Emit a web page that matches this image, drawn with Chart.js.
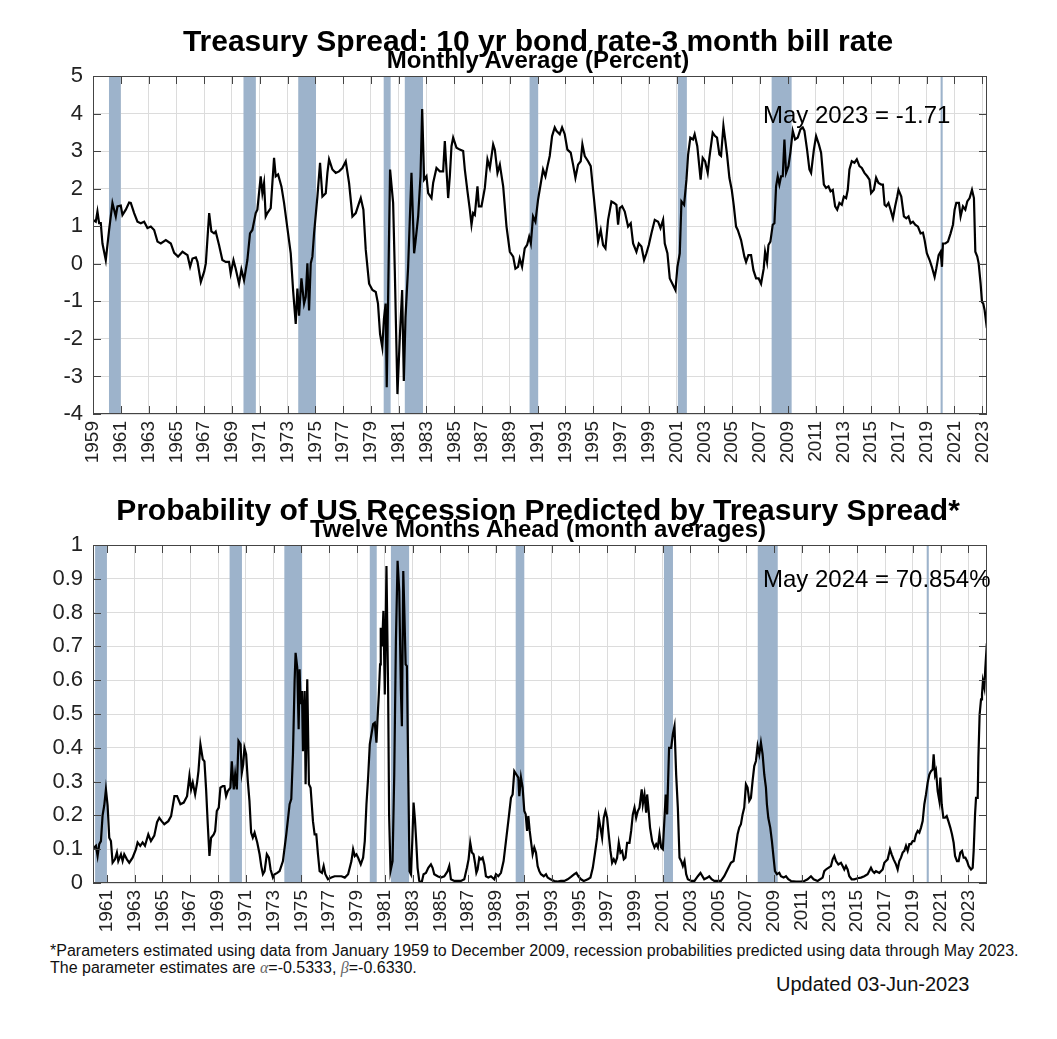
<!DOCTYPE html>
<html>
<head>
<meta charset="utf-8">
<title>Treasury Spread and Recession Probability</title>
<script src="https://cdn.jsdelivr.net/npm/chart.js"></script>
<style>
  body { margin: 0; background: #fff; font-family: "Liberation Sans", Arial, sans-serif; }
  #page { position: relative; width: 1057px; height: 1039px; overflow: hidden; background: #fff; }
  .block { position: absolute; left: 0; width: 1057px; height: 469px; }
  .block canvas { position: absolute; left: 0; top: 0; }
  .title { position: absolute; left: 38px; width: 1000px; text-align: center; font-weight: bold; white-space: nowrap; color: #000; }
  .t1 { top: 26px; font-size: 30px; line-height: 30px; }
  .t2 { top: 48px; font-size: 24px; line-height: 24px; }
  .note { position: absolute; left: 50px; top: 942px; font-size: 16px; line-height: 17px; color: #111; white-space: nowrap; }
  .greek { font-family: "Liberation Serif", "DejaVu Serif", serif; font-style: italic; color: #666; }
  .updated { position: absolute; left: 776px; top: 974px; font-size: 20px; line-height: 20px; color: #111; }
</style>
</head>
<body>
<div id="page">
  <div class="block" style="top:0">
    <canvas id="spreadChart" width="1057" height="469"></canvas>
    <div class="title t1">Treasury Spread: 10 yr bond rate-3 month bill rate</div>
    <div class="title t2">Monthly Average (Percent)</div>
  </div>
  <div class="block" style="top:469px">
    <canvas id="probChart" width="1057" height="469"></canvas>
    <div class="title t1">Probability of US Recession Predicted by Treasury Spread*</div>
    <div class="title t2">Twelve Months Ahead (month averages)</div>
  </div>
  <div class="note">*Parameters estimated using data from January 1959 to December 2009, recession probabilities predicted using data through May 2023.<br>The parameter estimates are <span class="greek">α</span>=-0.5333, <span class="greek">β</span>=-0.6330.</div>
  <div class="updated">Updated 03-Jun-2023</div>
</div>

<script>
// Spread series (decimal year, percent)
const spreadYears = [
  1959.00,1959.20,1959.32,1959.44,1959.56,1959.68,1959.92,1960.16,1960.40,1960.64,
  1960.76,1961.00,1961.12,1961.36,1961.60,1961.72,1961.96,1962.20,1962.44,1962.68,
  1962.92,1963.16,1963.40,1963.64,1963.88,1964.24,1964.60,1964.84,1965.12,1965.44,
  1965.80,1965.99,1966.16,1966.40,1966.52,1966.76,1967.00,1967.12,1967.36,1967.52,
  1967.71,1967.83,1968.07,1968.31,1968.55,1968.79,1968.91,1969.11,1969.27,1969.51,
  1969.68,1969.87,1970.11,1970.30,1970.47,1970.71,1970.83,1971.07,1971.19,1971.31,
  1971.43,1971.55,1971.79,1972.03,1972.15,1972.32,1972.56,1972.75,1972.99,1973.23,
  1973.40,1973.59,1973.71,1973.83,1974.00,1974.19,1974.31,1974.43,1974.55,1974.67,
  1974.79,1974.91,1975.15,1975.34,1975.51,1975.75,1975.87,1975.99,1976.23,1976.47,
  1976.71,1976.95,1977.19,1977.43,1977.67,1977.91,1978.15,1978.27,1978.46,1978.63,
  1978.87,1979.11,1979.35,1979.51,1979.66,1979.82,1979.94,1980.06,1980.14,1980.38,
  1980.60,1980.72,1980.91,1981.08,1981.25,1981.37,1981.49,1981.68,1981.92,1982.11,
  1982.21,1982.40,1982.57,1982.69,1982.83,1983.00,1983.12,1983.36,1983.48,1983.72,
  1983.96,1984.20,1984.32,1984.44,1984.56,1984.68,1984.80,1984.92,1985.16,1985.40,
  1985.64,1985.76,1985.95,1986.12,1986.24,1986.36,1986.48,1986.67,1986.77,1986.96,
  1987.20,1987.39,1987.56,1987.80,1987.92,1988.11,1988.28,1988.52,1988.76,1989.00,
  1989.24,1989.40,1989.59,1989.71,1989.88,1990.07,1990.24,1990.39,1990.51,1990.67,
  1990.84,1991.03,1991.23,1991.39,1991.56,1991.71,1991.87,1992.04,1992.23,1992.35,
  1992.59,1992.76,1992.95,1993.14,1993.38,1993.55,1993.72,1993.91,1994.10,1994.22,
  1994.39,1994.63,1994.82,1994.99,1995.16,1995.35,1995.54,1995.71,1995.88,1996.07,
  1996.31,1996.50,1996.67,1996.79,1996.91,1997.08,1997.27,1997.51,1997.70,1997.87,
  1998.11,1998.28,1998.47,1998.66,1998.83,1999.00,1999.19,1999.43,1999.67,1999.84,
  2000.03,2000.15,2000.34,2000.51,2000.75,2000.92,2001.06,2001.23,2001.35,2001.54,
  2001.71,2001.83,2001.99,2002.18,2002.30,2002.49,2002.73,2002.88,2003.05,2003.24,
  2003.36,2003.60,2003.77,2003.91,2004.08,2004.20,2004.37,2004.51,2004.63,2004.80,
  2004.97,2005.11,2005.28,2005.40,2005.64,2005.88,2006.00,2006.17,2006.36,2006.53,
  2006.72,2006.91,2007.08,2007.27,2007.37,2007.51,2007.61,2007.75,2007.92,2008.04,
  2008.16,2008.28,2008.40,2008.52,2008.64,2008.76,2008.88,2009.05,2009.19,2009.36,
  2009.53,2009.72,2009.91,2010.08,2010.20,2010.39,2010.56,2010.68,2010.88,2011.04,
  2011.24,2011.40,2011.60,2011.76,2011.93,2012.08,2012.24,2012.41,2012.56,2012.72,
  2012.89,2013.04,2013.20,2013.32,2013.44,2013.61,2013.80,2013.97,2014.16,2014.33,
  2014.52,2014.72,2014.88,2015.00,2015.20,2015.36,2015.53,2015.73,2015.85,2015.97,
  2016.09,2016.25,2016.40,2016.57,2016.73,2016.88,2016.97,2017.17,2017.36,2017.53,
  2017.69,2017.84,2018.01,2018.17,2018.37,2018.56,2018.73,2018.85,2019.01,2019.21,
  2019.37,2019.57,2019.69,2019.86,2020.00,2020.10,2020.17,2020.34,2020.53,2020.72,
  2020.89,2021.01,2021.13,2021.32,2021.44,2021.61,2021.78,2021.92,2022.09,2022.26,
  2022.40,2022.50,2022.64,2022.74,2022.88,2022.98,2023.07,2023.17,2023.33
];
const spreadValues = [
  1.17,1.12,1.39,1.08,1.08,0.54,0.10,0.90,1.62,1.26,
  1.53,1.55,1.30,1.44,1.63,1.62,1.35,1.12,1.08,1.12,
  0.95,0.99,0.90,0.59,0.54,0.63,0.54,0.29,0.19,0.32,
  0.23,-0.08,0.14,0.17,0.05,-0.48,-0.21,0.01,1.35,0.86,
  0.81,0.86,0.50,0.10,0.05,0.05,-0.26,0.10,-0.13,-0.53,
  -0.15,-0.44,0.10,0.81,0.90,1.35,1.44,2.33,1.88,2.15,
  1.26,1.35,1.48,2.82,2.33,2.38,2.06,1.62,0.95,0.28,
  -0.70,-1.60,-0.66,-1.38,-0.39,-1.06,-0.88,0.01,-1.24,0.01,
  0.19,0.81,1.79,2.69,1.79,1.88,2.42,2.78,2.51,2.42,
  2.46,2.55,2.73,2.15,1.26,1.35,1.62,1.75,1.44,0.37,
  -0.53,-0.70,-0.75,-1.06,-1.87,-2.22,-1.46,-1.06,-3.29,2.51,
  1.62,-0.17,-3.47,-1.96,-0.70,-3.12,-1.42,-0.08,2.42,0.28,
  0.59,1.26,2.33,4.12,2.24,2.33,1.88,1.75,2.15,2.55,
  2.46,2.46,3.27,2.51,1.75,2.33,3.13,3.36,3.09,3.04,
  3.00,2.51,1.93,1.44,1.04,1.35,1.30,2.06,1.53,1.53,
  2.02,2.78,2.55,3.18,3.04,2.42,2.64,2.06,0.99,0.32,
  0.19,-0.13,-0.08,0.14,-0.08,0.41,0.50,0.72,0.54,1.26,
  1.12,1.71,2.15,2.51,2.33,2.60,2.87,3.40,3.63,3.54,
  3.45,3.63,3.45,3.04,2.96,2.64,2.29,2.64,2.73,3.18,
  2.87,2.73,2.60,1.97,1.35,0.59,0.90,0.50,0.41,1.17,
  1.66,1.62,1.57,1.04,1.48,1.53,1.39,0.99,1.08,0.54,
  0.32,0.54,0.46,0.10,0.28,0.50,0.81,1.17,1.12,0.95,
  1.17,0.54,0.28,-0.39,-0.57,-0.70,-0.08,0.28,1.66,1.57,
  2.24,2.91,3.36,3.31,3.45,3.13,2.24,2.82,2.73,2.42,
  2.82,3.49,3.40,3.36,2.91,2.87,3.67,3.27,2.91,2.29,
  1.97,1.57,0.99,0.90,0.63,0.19,0.05,0.23,0.23,-0.17,
  -0.39,-0.39,-0.53,-0.13,0.32,0.05,0.50,0.59,1.04,1.08,
  2.06,2.33,2.11,2.33,2.33,3.31,2.42,2.60,2.96,3.54,
  3.31,3.36,3.58,3.63,3.54,3.04,2.51,2.42,3.04,3.40,
  3.18,2.96,2.11,2.02,2.06,1.93,1.97,1.53,1.44,1.62,
  1.57,1.79,1.75,1.97,2.51,2.73,2.69,2.78,2.60,2.55,
  2.42,2.33,2.24,1.88,1.97,2.29,2.15,2.11,2.11,1.57,
  1.53,1.62,1.44,1.21,1.53,1.79,1.97,1.79,1.26,1.21,
  1.26,1.08,1.12,1.04,0.99,0.81,0.83,0.63,0.28,0.10,
  -0.08,-0.35,-0.13,0.23,0.32,-0.08,0.54,0.54,0.59,0.81,
  1.04,1.44,1.62,1.62,1.26,1.53,1.44,1.66,1.75,1.97,
  1.75,0.32,0.19,0.01,-0.53,-1.02,-1.06,-1.24,-1.71
];

// Recession probability twelve months ahead (decimal year, probability)
const probYears = [
  1960.00,1960.09,1960.21,1960.33,1960.45,1960.57,1960.69,1960.81,1960.93,1961.05,
  1961.17,1961.29,1961.41,1961.58,1961.72,1961.82,1962.01,1962.13,1962.25,1962.44,
  1962.61,1962.85,1963.09,1963.21,1963.40,1963.57,1963.74,1963.98,1964.17,1964.41,
  1964.61,1964.77,1964.94,1965.13,1965.42,1965.62,1965.86,1966.05,1966.29,1966.53,
  1966.77,1966.94,1967.06,1967.18,1967.35,1967.49,1967.59,1967.73,1967.90,1968.02,
  1968.14,1968.26,1968.38,1968.50,1968.69,1968.79,1968.91,1969.05,1969.17,1969.34,
  1969.46,1969.58,1969.70,1969.89,1969.99,1970.13,1970.23,1970.35,1970.47,1970.62,
  1970.71,1970.81,1970.90,1971.02,1971.14,1971.26,1971.38,1971.50,1971.63,1971.82,
  1971.99,1972.11,1972.23,1972.35,1972.51,1972.66,1972.78,1972.95,1973.07,1973.26,
  1973.43,1973.67,1973.91,1974.15,1974.27,1974.39,1974.51,1974.58,1974.70,1974.80,
  1974.87,1974.94,1975.04,1975.11,1975.23,1975.30,1975.42,1975.54,1975.66,1975.83,
  1975.95,1976.07,1976.19,1976.31,1976.48,1976.60,1976.72,1976.91,1977.15,1977.39,
  1977.63,1977.88,1978.12,1978.36,1978.60,1978.72,1978.84,1978.96,1979.08,1979.27,
  1979.44,1979.56,1979.68,1979.80,1979.92,1980.04,1980.16,1980.28,1980.40,1980.47,
  1980.57,1980.66,1980.71,1980.81,1980.90,1981.00,1981.12,1981.24,1981.31,1981.41,
  1981.56,1981.68,1981.80,1981.92,1982.04,1982.16,1982.23,1982.33,1982.40,1982.50,
  1982.59,1982.69,1982.78,1982.88,1982.98,1983.07,1983.17,1983.26,1983.36,1983.48,
  1983.65,1983.79,1983.96,1984.13,1984.32,1984.44,1984.56,1984.80,1985.04,1985.28,
  1985.52,1985.64,1985.76,1986.00,1986.24,1986.48,1986.72,1986.91,1987.03,1987.15,
  1987.27,1987.39,1987.49,1987.59,1987.68,1987.80,1987.92,1988.04,1988.16,1988.28,
  1988.45,1988.64,1988.88,1989.00,1989.17,1989.36,1989.55,1989.72,1989.89,1990.08,
  1990.20,1990.32,1990.47,1990.61,1990.68,1990.80,1990.92,1991.04,1991.14,1991.24,
  1991.33,1991.43,1991.52,1991.64,1991.76,1991.88,1992.00,1992.12,1992.24,1992.44,
  1992.60,1992.72,1992.92,1993.20,1993.44,1993.68,1993.92,1994.16,1994.40,1994.64,
  1994.79,1994.93,1995.12,1995.32,1995.61,1995.80,1995.97,1996.13,1996.28,1996.40,
  1996.52,1996.64,1996.76,1996.88,1997.00,1997.09,1997.24,1997.36,1997.48,1997.60,
  1997.72,1997.84,1997.96,1998.08,1998.20,1998.32,1998.44,1998.61,1998.73,1998.85,
  1998.97,1999.09,1999.21,1999.33,1999.49,1999.57,1999.69,1999.81,1999.88,1999.97,
  2000.09,2000.24,2000.41,2000.53,2000.65,2000.77,2000.89,2001.01,2001.13,2001.22,
  2001.32,2001.46,2001.61,2001.73,2001.85,2001.97,2002.09,2002.21,2002.33,2002.45,
  2002.57,2002.69,2002.81,2003.05,2003.29,2003.53,2003.72,2003.99,2004.23,2004.35,
  2004.52,2004.71,2004.95,2005.19,2005.43,2005.67,2005.91,2006.10,2006.22,2006.39,
  2006.51,2006.63,2006.75,2006.87,2006.99,2007.11,2007.23,2007.35,2007.47,2007.59,
  2007.71,2007.83,2007.95,2008.07,2008.19,2008.31,2008.43,2008.50,2008.60,2008.74,
  2008.86,2008.98,2009.08,2009.22,2009.39,2009.51,2009.70,2009.87,2010.04,2010.23,
  2010.59,2010.95,2011.19,2011.43,2011.67,2011.86,2012.15,2012.51,2012.63,2012.75,
  2012.92,2013.11,2013.23,2013.35,2013.47,2013.64,2013.83,2013.95,2014.07,2014.19,
  2014.31,2014.43,2014.60,2014.79,2015.03,2015.27,2015.51,2015.75,2015.99,2016.11,
  2016.23,2016.35,2016.59,2016.83,2016.95,2017.07,2017.19,2017.36,2017.48,2017.62,
  2017.79,2017.91,2018.03,2018.15,2018.27,2018.39,2018.51,2018.63,2018.75,2018.87,
  2018.99,2019.11,2019.23,2019.35,2019.47,2019.59,2019.71,2019.83,2019.95,2020.07,
  2020.19,2020.31,2020.43,2020.50,2020.60,2020.67,2020.79,2020.91,2020.98,2021.08,
  2021.20,2021.32,2021.44,2021.56,2021.70,2021.82,2021.94,2022.04,2022.18,2022.30,
  2022.42,2022.54,2022.66,2022.78,2022.90,2023.02,2023.19,2023.31,2023.38,2023.48,
  2023.55,2023.67,2023.72,2023.81,2023.91,2023.98,2024.05,2024.15,2024.22,2024.33
];
const probValues = [
  0.100,0.105,0.110,0.080,0.115,0.124,0.200,0.230,0.277,0.230,
  0.134,0.124,0.060,0.070,0.090,0.065,0.085,0.065,0.085,0.070,
  0.060,0.075,0.100,0.120,0.110,0.120,0.110,0.144,0.124,0.140,
  0.180,0.193,0.183,0.174,0.183,0.198,0.257,0.257,0.233,0.238,
  0.257,0.317,0.277,0.297,0.262,0.297,0.331,0.410,0.366,0.360,
  0.277,0.174,0.080,0.134,0.144,0.154,0.213,0.223,0.282,0.287,
  0.287,0.257,0.272,0.282,0.360,0.277,0.321,0.277,0.420,0.410,
  0.326,0.351,0.400,0.381,0.302,0.243,0.149,0.134,0.149,0.120,
  0.085,0.050,0.026,0.035,0.085,0.075,0.040,0.016,0.026,0.030,
  0.035,0.065,0.144,0.233,0.248,0.381,0.598,0.681,0.637,0.455,
  0.632,0.529,0.568,0.390,0.568,0.292,0.603,0.292,0.282,0.183,
  0.144,0.144,0.085,0.035,0.030,0.050,0.026,0.011,0.016,0.020,
  0.020,0.020,0.016,0.026,0.065,0.100,0.080,0.085,0.075,0.055,
  0.075,0.124,0.233,0.312,0.410,0.440,0.470,0.474,0.415,0.480,
  0.558,0.647,0.755,0.700,0.805,0.558,0.938,0.568,0.203,0.035,
  0.065,0.320,0.716,0.953,0.864,0.568,0.464,0.923,0.815,0.647,
  0.642,0.320,0.035,0.026,0.124,0.238,0.188,0.124,0.045,0.006,
  0.001,0.026,0.030,0.045,0.055,0.045,0.026,0.020,0.016,0.020,
  0.035,0.050,0.011,0.006,0.006,0.006,0.011,0.045,0.070,0.119,
  0.090,0.085,0.060,0.030,0.040,0.075,0.070,0.075,0.055,0.020,
  0.016,0.020,0.011,0.026,0.020,0.030,0.065,0.124,0.183,0.252,
  0.262,0.331,0.321,0.312,0.257,0.312,0.282,0.213,0.203,0.154,
  0.198,0.154,0.124,0.085,0.105,0.090,0.050,0.035,0.026,0.020,
  0.026,0.016,0.011,0.006,0.004,0.006,0.006,0.011,0.018,0.026,
  0.030,0.020,0.011,0.006,0.011,0.016,0.045,0.090,0.134,0.193,
  0.164,0.134,0.193,0.213,0.193,0.154,0.095,0.060,0.070,0.060,
  0.075,0.119,0.090,0.095,0.070,0.075,0.119,0.119,0.154,0.203,
  0.223,0.193,0.213,0.223,0.277,0.233,0.262,0.208,0.262,0.223,
  0.164,0.124,0.105,0.115,0.105,0.144,0.105,0.100,0.193,0.262,
  0.203,0.400,0.400,0.440,0.464,0.320,0.223,0.075,0.065,0.050,
  0.065,0.026,0.011,0.006,0.006,0.020,0.030,0.011,0.016,0.020,
  0.011,0.006,0.006,0.006,0.020,0.040,0.060,0.065,0.095,0.144,
  0.164,0.174,0.203,0.223,0.292,0.282,0.243,0.252,0.302,0.346,
  0.361,0.405,0.381,0.415,0.381,0.321,0.282,0.233,0.193,0.164,
  0.124,0.075,0.035,0.026,0.030,0.020,0.016,0.020,0.011,0.006,
  0.004,0.004,0.006,0.011,0.020,0.011,0.006,0.016,0.035,0.040,
  0.045,0.050,0.070,0.080,0.065,0.055,0.060,0.050,0.040,0.050,
  0.040,0.020,0.011,0.011,0.014,0.016,0.020,0.026,0.045,0.035,
  0.030,0.035,0.030,0.040,0.060,0.065,0.070,0.100,0.085,0.070,
  0.055,0.040,0.065,0.075,0.090,0.095,0.110,0.095,0.115,0.115,
  0.124,0.124,0.144,0.154,0.149,0.164,0.183,0.233,0.262,0.297,
  0.321,0.331,0.336,0.381,0.321,0.331,0.272,0.243,0.312,0.233,
  0.193,0.193,0.198,0.183,0.164,0.144,0.119,0.080,0.065,0.065,
  0.090,0.095,0.075,0.075,0.065,0.050,0.040,0.045,0.095,0.203,
  0.252,0.252,0.371,0.499,0.543,0.558,0.598,0.578,0.637,0.709
];

// Recession periods shown as shaded bands [start, end]
const recessions = [
  [1960.15, 1961.00], [1969.83, 1970.72], [1973.77, 1975.05],
  [1979.92, 1980.42], [1981.44, 1982.75], [1990.42, 1991.04],
  [2001.09, 2001.74], [2007.84, 2009.28], [2020.00, 2020.15]
];

// Tick labels
const spreadTicksX = [1959,1961,1963,1965,1967,1969,1971,1973,1975,1977,1979,1981,1983,1985,1987,1989,
  1991,1993,1995,1997,1999,2001,2003,2005,2007,2009,2011,2013,2015,2017,2019,2021,2023];
const probTicksX = [1961,1963,1965,1967,1969,1971,1973,1975,1977,1979,1981,1983,1985,1987,1989,
  1991,1993,1995,1997,1999,2001,2003,2005,2007,2009,2011,2013,2015,2017,2019,2021,2023];
const spreadTicksY = [-4,-3,-2,-1,0,1,2,3,4,5];
const probTicksY = [0,0.1,0.2,0.3,0.4,0.5,0.6,0.7,0.8,0.9,1];

Chart.defaults.font.family = '"Liberation Sans", Arial, sans-serif';
Chart.defaults.color = '#222';

// Shaded recession bands behind the line
const recessionBands = {
  id: 'recessionBands',
  beforeDatasetsDraw(chart) {
    const {ctx, chartArea: a, scales: {x}} = chart;
    ctx.save();
    ctx.fillStyle = '#9db3cb';
    recessions.forEach(([s, e]) => {
      const x0 = Math.max(x.getPixelForValue(s), a.left);
      const x1 = Math.min(x.getPixelForValue(e), a.right);
      if (x1 > x0) ctx.fillRect(x0, a.top, x1 - x0, a.height);
    });
    ctx.restore();
  }
};

// Box around the plot with inward tick marks on all four sides
const plotFrame = {
  id: 'plotFrame',
  afterDatasetsDraw(chart) {
    const {ctx, chartArea: a, scales: {x, y}} = chart;
    const len = 8;
    ctx.save();
    ctx.strokeStyle = '#444';
    ctx.lineWidth = 1;
    ctx.strokeRect(a.left + 0.5, a.top + 0.5, a.width - 1, a.height - 1);
    ctx.beginPath();
    x.ticks.forEach(t => {
      const px = Math.round(x.getPixelForValue(t.value)) + 0.5;
      ctx.moveTo(px, a.top); ctx.lineTo(px, a.top + len);
      ctx.moveTo(px, a.bottom); ctx.lineTo(px, a.bottom - len);
    });
    y.ticks.forEach(t => {
      const py = Math.round(y.getPixelForValue(t.value)) + 0.5;
      ctx.moveTo(a.left, py); ctx.lineTo(a.left + len, py);
      ctx.moveTo(a.right, py); ctx.lineTo(a.right - len, py);
    });
    ctx.stroke();
    ctx.restore();
  }
};

// Latest value label
const lastValue = {
  id: 'lastValue',
  afterDraw(chart, args, opts) {
    const ctx = chart.ctx;
    ctx.save();
    ctx.font = '24px "Liberation Sans", Arial, sans-serif';
    ctx.fillStyle = '#000';
    ctx.textBaseline = 'alphabetic';
    ctx.fillText(opts.text, opts.x, opts.y);
    ctx.restore();
  }
};

function makeChart(id, xs, ys, xRange, xTicks, yRange, yTicks, label) {
  return new Chart(document.getElementById(id), {
    type: 'line',
    data: {
      datasets: [{
        data: xs.map((x, i) => ({x: x, y: ys[i]})),
        borderColor: '#000',
        borderWidth: 2.2,
        pointRadius: 0,
        tension: 0
      }]
    },
    options: {
      responsive: false,
      animation: false,
      events: [],
      layout: { padding: { left: 0, right: 70, top: 76, bottom: 0 } },
      plugins: {
        legend: { display: false },
        tooltip: { enabled: false },
        lastValue: label
      },
      scales: {
        x: {
          type: 'linear',
          min: xRange[0],
          max: xRange[1],
          afterBuildTicks: s => { s.ticks = xTicks.map(v => ({value: v})); },
          afterFit: s => { s.height = 55; },
          grid: { color: '#dcdcdc', drawTicks: false },
          border: { display: false },
          ticks: {
            autoSkip: false, minRotation: 90, maxRotation: 90, padding: 7,
            color: '#222', font: { size: 19 },
            callback: v => String(v)
          }
        },
        y: {
          min: yRange[0],
          max: yRange[1],
          afterBuildTicks: s => { s.ticks = yTicks.map(v => ({value: v})); },
          afterFit: s => { s.width = 93; },
          grid: { color: '#dcdcdc', drawTicks: false },
          border: { display: false },
          ticks: {
            padding: 10, color: '#222', font: { size: 22 },
            callback: v => String(v)
          }
        }
      }
    },
    plugins: [recessionBands, plotFrame, lastValue]
  });
}

makeChart('spreadChart', spreadYears, spreadValues, [1959, 2023.34], spreadTicksX,
  [-4, 5], spreadTicksY, { text: 'May 2023 = -1.71', x: 763, y: 123 });
makeChart('probChart', probYears, probValues, [1960, 2024.34], probTicksX,
  [0, 1], probTicksY, { text: 'May 2024 = 70.854%', x: 763, y: 118 });
</script>
</body>
</html>
